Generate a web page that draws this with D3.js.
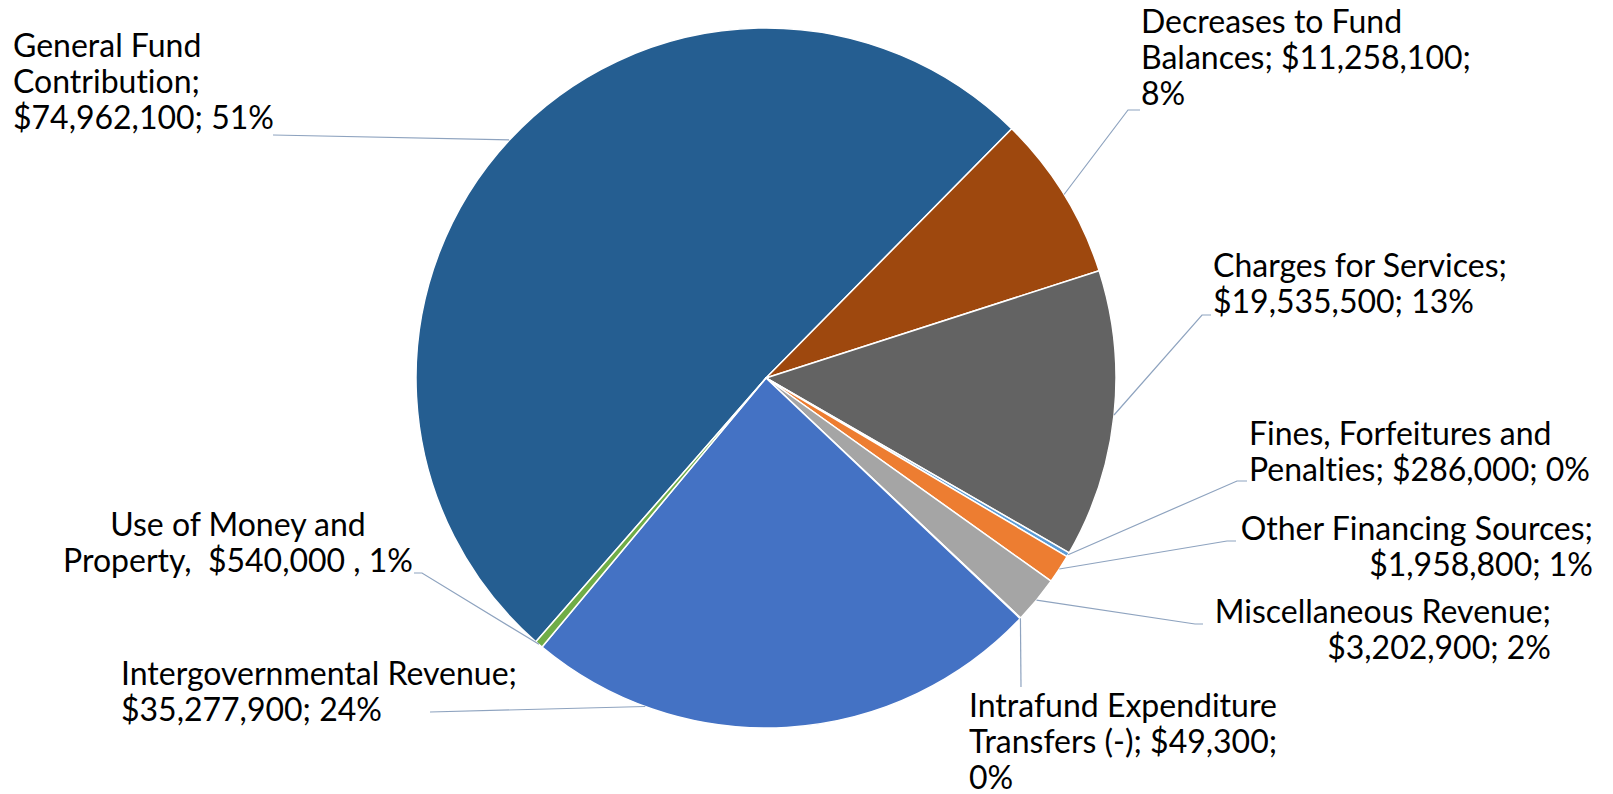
<!DOCTYPE html>
<html>
<head>
<meta charset="utf-8">
<script src="https://cdn.jsdelivr.net/npm/d3@7"></script>
<style>
  body { margin: 0; background: #fff; }
  text { font-family: Lato, "Noto Sans", sans-serif; fill: #000; font-variant-ligatures: none; }
</style>
</head>
<body>
<div id="pieContainer"></div>
<script>
// Revenue sources (clockwise from the General Fund slice)
const categories = [
    "General Fund Contribution",
    "Decreases to Fund Balances",
    "Charges for Services",
    "Fines, Forfeitures and Penalties",
    "Other Financing Sources",
    "Miscellaneous Revenue",
    "Intrafund Expenditure Transfers (-)",
    "Intergovernmental Revenue",
    "Use of Money and Property"
];
const values = [74962100, 11258100, 19535500, 286000, 1958800, 3202900, 49300, 35277900, 540000];
const colors = ["#255E91", "#9E480E", "#636363", "#5B9BD5", "#ED7D31", "#A5A5A5", "#FFC000", "#4472C4", "#70AD47"];

// data label text, as wrapped on the chart
const labelLines = [
    ["General Fund", "Contribution;", "$74,962,100; 51%"],
    ["Decreases to Fund", "Balances; $11,258,100;", "8%"],
    ["Charges for Services;", "$19,535,500; 13%"],
    ["Fines, Forfeitures and", "Penalties; $286,000; 0%"],
    ["Other Financing Sources;", "$1,958,800; 1%"],
    ["Miscellaneous Revenue;", "$3,202,900; 2%"],
    ["Intrafund Expenditure", "Transfers (-); $49,300;", "0%"],
    ["Intergovernmental Revenue;", "$35,277,900; 24%"],
    ["Use of Money and", "Property,  $540,000 , 1%"]
];

const width = 1613, height = 794;
const cx = 766, cy = 378, radius = 350;
const fontSize = 32, lineHeight = 36;

// label placement: first baseline, alignment, leader elbow points, where leader meets the slice (0..1 along arc)
const labelLayout = [
    { x: 13,   y: 57,  anchor: "start",  leader: [[273, 135]], t: 0.5 },
    { x: 1141, y: 33,  anchor: "start",  leader: [[1140, 110], [1128, 110]], t: 0.5 },
    { x: 1213, y: 277, anchor: "start",  leader: [[1211, 315], [1202, 315]], t: 0.5 },
    { x: 1249, y: 445, anchor: "start",  leader: [[1247, 481], [1237, 481]], t: 0.5 },
    { x: 1593, y: 540, anchor: "end",    leader: [[1236, 541], [1227, 541]], t: 0.5 },
    { x: 1551, y: 623, anchor: "end",    leader: [[1203, 624], [1195, 624]], t: 0.5 },
    { x: 969,  y: 717, anchor: "start",  leader: [[1021, 687]], t: 0.5 },
    { x: 121,  y: 685, anchor: "start",  leader: [[430, 712]], t: 0.773 },
    { x: 238,  y: 536, anchor: "middle", leader: [[414, 573], [422, 573]], t: 0.5 }
];

const dataset = categories.map((c, i) => ({ name: c, value: values[i], color: colors[i], lines: labelLines[i], layout: labelLayout[i] }));

const svg = d3.select("#pieContainer").append("svg")
    .attr("width", width)
    .attr("height", height);

const g = svg.append("g")
    .attr("transform", "translate(" + cx + "," + cy + ")");

// General Fund slice ends at ~44.6 deg, so rotate the whole pie
const total = d3.sum(values);
const offset = (44.6 - 360 * values[0] / total) * Math.PI / 180;

const pie = d3.pie()
    .sort(null)
    .value(d => d.value)
    .startAngle(offset)
    .endAngle(offset + 2 * Math.PI);

const arc = d3.arc().innerRadius(0).outerRadius(radius);

const arcs = pie(dataset);

g.selectAll(".slice")
    .data(arcs)
    .enter().append("path")
    .attr("class", "slice")
    .attr("d", arc)
    .style("fill", d => d.data.color)
    .style("stroke", "#fff")
    .style("stroke-width", 1.5)
    .style("stroke-linejoin", "round");

// leader lines: from the label to a point on the slice edge
const line = d3.line();
svg.selectAll(".leader")
    .data(arcs)
    .enter().append("path")
    .attr("class", "leader")
    .attr("d", d => {
        const a = d.startAngle + (d.endAngle - d.startAngle) * d.data.layout.t;
        const tip = [cx + radius * Math.sin(a), cy - radius * Math.cos(a)];
        return line(d.data.layout.leader.concat([tip]));
    })
    .style("fill", "none")
    .style("stroke", "#8EA3BF")
    .style("stroke-width", 1.2);

// data labels
const labels = svg.selectAll(".label")
    .data(dataset)
    .enter().append("text")
    .attr("class", "label")
    .attr("x", d => d.layout.x)
    .attr("y", d => d.layout.y)
    .attr("text-anchor", d => d.layout.anchor)
    .style("font-size", fontSize + "px")
    .style("white-space", "pre");

labels.selectAll("tspan")
    .data(d => d.lines.map((s, i) => ({ s: s, i: i, x: d.layout.x })))
    .enter().append("tspan")
    .attr("x", d => d.x)
    .attr("dy", d => d.i === 0 ? 0 : lineHeight)
    .text(d => d.s);
</script>
</body>
</html>
